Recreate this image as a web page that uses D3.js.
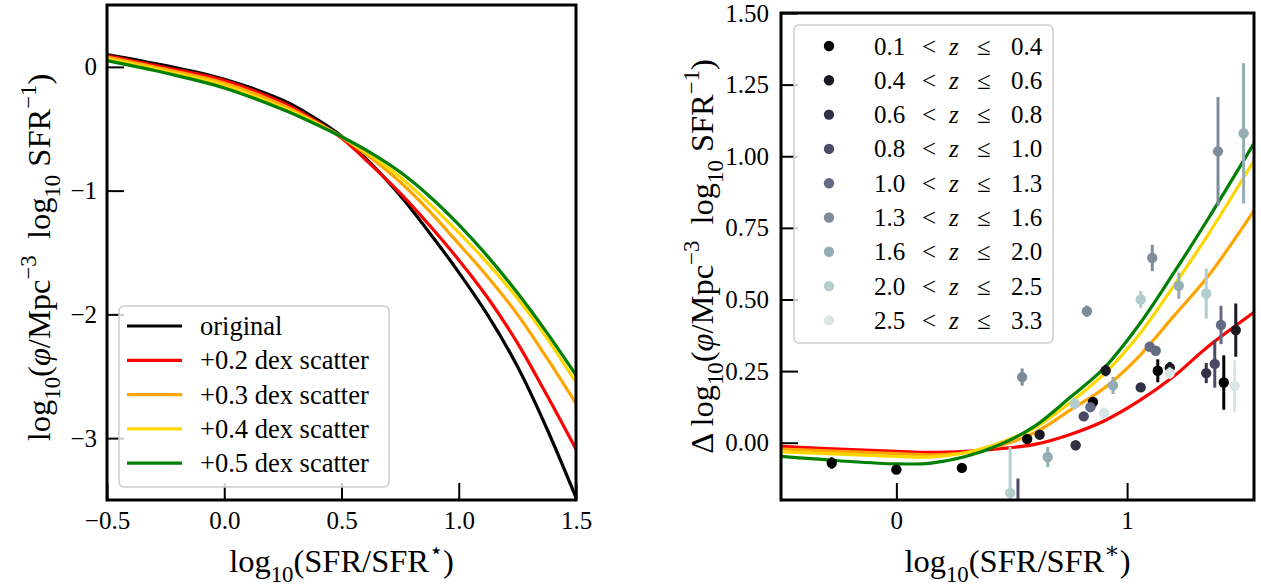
<!DOCTYPE html>
<html>
<head>
<meta charset="utf-8">
<title>SFR function with scatter</title>
<script src="https://cdn.jsdelivr.net/npm/d3@7"></script>
<style>
  body { margin: 0; background: #fff; }
  text { font-family: "Liberation Serif", "DejaVu Serif", serif; fill: #000; }
</style>
</head>
<body>
<div id="container"></div>
<script>

// ---- left panel: log10 phi curves ----
const lfX        = [-0.5, -0.25, 0, 0.25, 0.375, 0.5, 0.625, 0.75, 0.875, 1.0, 1.125, 1.25, 1.375, 1.5];
const lfOriginal = [0.10, 0.01, -0.10, -0.27, -0.40, -0.56, -0.78, -1.04, -1.34, -1.66, -2.01, -2.42, -2.92, -3.48];
const lfDex02    = [0.09, -0.005, -0.11, -0.29, -0.42, -0.575, -0.79, -1.02, -1.28, -1.56, -1.87, -2.23, -2.65, -3.09];
const lfDex03    = [0.08, -0.02, -0.13, -0.31, -0.43, -0.565, -0.735, -0.93, -1.165, -1.43, -1.70, -2.00, -2.35, -2.72];
const lfDex04    = [0.065, -0.035, -0.15, -0.33, -0.44, -0.565, -0.715, -0.89, -1.105, -1.34, -1.59, -1.87, -2.19, -2.55];
const lfDex05    = [0.05, -0.05, -0.17, -0.345, -0.45, -0.565, -0.695, -0.85, -1.045, -1.275, -1.535, -1.825, -2.145, -2.49];

const curveNames  = ['original', '+0.2 dex scatter', '+0.3 dex scatter', '+0.4 dex scatter', '+0.5 dex scatter'];
const curveColors = ['#000000', '#ff0000', '#ffa500', '#ffd700', '#008000'];

// ---- right panel: delta curves ----
const dX     = [-0.5, -0.25, 0, 0.15, 0.3, 0.45, 0.6, 0.75, 0.9, 1.05, 1.2, 1.35, 1.55];
const dDex02 = [-0.013, -0.022, -0.030, -0.034, -0.030, -0.021, -0.006, 0.028, 0.076, 0.145, 0.23, 0.335, 0.455];
const dDex03 = [-0.022, -0.030, -0.038, -0.042, -0.035, -0.010, 0.035, 0.112, 0.19, 0.30, 0.44, 0.58, 0.81];
const dDex04 = [-0.032, -0.040, -0.048, -0.050, -0.035, 0.0, 0.052, 0.138, 0.24, 0.375, 0.545, 0.725, 0.985];
const dDex05 = [-0.048, -0.063, -0.074, -0.071, -0.048, -0.006, 0.058, 0.156, 0.26, 0.41, 0.59, 0.78, 1.045];

// redshift bins
const zLow  = ['0.1', '0.4', '0.6', '0.8', '1.0', '1.3', '1.6', '2.0', '2.5'];
const zHigh = ['0.4', '0.6', '0.8', '1.0', '1.3', '1.6', '2.0', '2.5', '3.3'];
const zColors = ['#000000', '#191923', '#313145', '#4a4a67', '#636a83', '#7c8c9c', '#95aeb5', '#b1cdcd', '#d8e6e6'];

// observed points: bin index, x, y, error
const obsBin = [0, 0, 0, 0, 0, 0, 0,
                1, 1, 1, 1,
                2, 2, 2,
                3, 3, 3,
                4, 4, 4, 4,
                5, 5, 5, 5,
                6, 6, 6, 6,
                7, 7, 7, 7,
                8, 8, 8];
const obsX = [-0.28, 0.0, 0.284, 0.567, 0.852, 1.133, 1.419,
              0.621, 0.907, 1.185, 1.471,
              0.777, 1.059, 1.343,
              0.527, 0.812, 1.38,
              0.841, 1.098, 1.124, 1.407,
              0.545, 0.826, 1.109, 1.394,
              0.656, 0.939, 1.224, 1.505,
              0.493, 0.773, 1.059, 1.343,
              0.90, 1.185, 1.466];
const obsY = [-0.071, -0.094, -0.088, 0.013, 0.142, 0.251, 0.21,
              0.028, 0.252, 0.262, 0.393,
              -0.009, 0.193, 0.243,
              -0.25, 0.092, 0.275,
              0.124, 0.335, 0.321, 0.411,
              0.229, 0.459, 0.645, 1.017,
              -0.050, 0.200, 0.548, 1.080,
              -0.175, 0.136, 0.500, 0.521,
              0.103, 0.243, 0.198];
const obsErr = [0.02, 0.01, 0.01, 0.01, 0.01, 0.04, 0.095,
                0.01, 0.02, 0.02, 0.093,
                0.01, 0.01, 0.035,
                0.125, 0.01, 0.083,
                0.015, 0.01, 0.01, 0.067,
                0.03, 0.02, 0.046, 0.19,
                0.035, 0.03, 0.046, 0.245,
                0.16, 0.02, 0.03, 0.087,
                0.02, 0.02, 0.09];

// ticks
const leftXTicks  = [-0.5, 0.0, 0.5, 1.0, 1.5];
const leftYTicks  = [0, -1, -2, -3];
const rightXTicks = [0, 1];
const rightYTicks = [0.00, 0.25, 0.50, 0.75, 1.00, 1.25, 1.50];

const W = 1261, H = 587;
const tickFont = 25, labelFont = 32.5, legendFont = 25, legendFontL = 26.5;

const leftBox  = {x0: 107, x1: 576, y0: 5, y1: 500};
const rightBox = {x0: 781, x1: 1254, y0: 13, y1: 500};

const svg = d3.select('#container').append('svg')
  .attr('width', W).attr('height', H);

// writes text with sub/superscripts
function richText(el, parts, size) {
  let shift = 0;
  parts.forEach(([str, kind]) => {
    const target = kind === 'sub' ? size * 0.3 : kind === 'sup' ? -size * 0.42 : 0;
    const t = el.append('tspan').attr('dy', target - shift).text(str);
    shift = target;
    if (kind === 'sub' || kind === 'sup') t.attr('font-size', size * 0.7);
    if (kind === 'it') t.attr('font-style', 'italic');
  });
}

function drawAxes(g, box, x, y, xTicks, yTicks, xFmt, yFmt, yPad) {
  const ax = g.append('g')
    .attr('transform', `translate(0,${box.y1})`)
    .call(d3.axisBottom(x).tickValues(xTicks).tickFormat(xFmt)
      .tickSizeInner(-17).tickSizeOuter(0).tickPadding(11));
  const ay = g.append('g')
    .attr('transform', `translate(${box.x0},0)`)
    .call(d3.axisLeft(y).tickValues(yTicks).tickFormat(yFmt)
      .tickSizeInner(-17).tickSizeOuter(0).tickPadding(yPad));
  [ax, ay].forEach(a => {
    a.select('.domain').remove();
    a.selectAll('line').attr('stroke', '#000').attr('stroke-width', 2);
    a.selectAll('text')
      .style('font-family', '"Liberation Serif", serif')
      .attr('font-size', tickFont).attr('fill', '#000');
  });
}

function frame(g, box) {
  g.append('rect')
    .attr('x', box.x0).attr('y', box.y0)
    .attr('width', box.x1 - box.x0).attr('height', box.y1 - box.y0)
    .attr('fill', 'none').attr('stroke', '#000').attr('stroke-width', 3);
}

// ================= left panel =================
const xL = d3.scaleLinear().domain([-0.5, 1.5]).range([leftBox.x0, leftBox.x1]);
const yL = d3.scaleLinear().domain([-3.5, 0.5]).range([leftBox.y1, leftBox.y0]);

const left = svg.append('g');
svg.append('clipPath').attr('id', 'clipL').append('rect')
  .attr('x', leftBox.x0).attr('y', leftBox.y0)
  .attr('width', leftBox.x1 - leftBox.x0).attr('height', leftBox.y1 - leftBox.y0);

drawAxes(left, leftBox, xL, yL, leftXTicks, leftYTicks, d3.format('.1f'), d3.format('d'), 10);

const lineL = d3.line().x(d => xL(d[0])).y(d => yL(d[1])).curve(d3.curveCatmullRom.alpha(0.5));
const lfSeries = [lfOriginal, lfDex02, lfDex03, lfDex04, lfDex05];
left.append('g').attr('clip-path', 'url(#clipL)')
  .selectAll('path').data(lfSeries).join('path')
  .attr('d', s => lineL(lfX.map((x, i) => [x, s[i]])))
  .attr('fill', 'none')
  .attr('stroke', (d, i) => curveColors[i])
  .attr('stroke-width', 3.2);

frame(left, leftBox);

// left legend
const legL = left.append('g');
legL.append('rect')
  .attr('x', 119).attr('y', 306).attr('width', 270).attr('height', 181).attr('rx', 5)
  .attr('fill', '#fff').attr('fill-opacity', 0.8)
  .attr('stroke', '#cccccc').attr('stroke-width', 1.5);
const legLRows = legL.selectAll('g.row').data(curveNames).join('g')
  .attr('class', 'row')
  .attr('transform', (d, i) => `translate(0,${326 + i * 34.3})`);
legLRows.append('line')
  .attr('x1', 127).attr('x2', 182)
  .attr('stroke', (d, i) => curveColors[i]).attr('stroke-width', 3.2);
legLRows.append('text')
  .attr('x', 200).attr('y', 9)
  .attr('font-size', legendFontL)
  .text(d => d);

// left axis labels
const xlabL = left.append('text')
  .attr('x', (leftBox.x0 + leftBox.x1) / 2).attr('y', 572)
  .attr('text-anchor', 'middle').attr('font-size', labelFont);
richText(xlabL, [['log', ''], ['10', 'sub'], ['(SFR/SFR', ''], ['⋆', 'sup'], [')', '']], labelFont);

const ylabL = left.append('text')
  .attr('transform', `translate(50,${(leftBox.y0 + leftBox.y1) / 2 + 5}) rotate(-90)`)
  .attr('text-anchor', 'middle').attr('font-size', labelFont)
  .style('white-space', 'pre');
richText(ylabL, [['log', ''], ['10', 'sub'], ['(', ''], ['φ', 'it'], ['/Mpc', ''], ['−3', 'sup'],
  ['  log', ''], ['10', 'sub'], [' SFR', ''], ['−1', 'sup'], [')', '']], labelFont);

// ================= right panel =================
const xR = d3.scaleLinear().domain([-0.5, 1.55]).range([rightBox.x0, rightBox.x1]);
const yR = d3.scaleLinear().domain([-0.2, 1.5]).range([rightBox.y1, rightBox.y0]);

const right = svg.append('g');
svg.append('clipPath').attr('id', 'clipR').append('rect')
  .attr('x', rightBox.x0).attr('y', rightBox.y0)
  .attr('width', rightBox.x1 - rightBox.x0).attr('height', rightBox.y1 - rightBox.y0);

drawAxes(right, rightBox, xR, yR, rightXTicks, rightYTicks, d3.format('d'), d3.format('.2f'), 12);

const lineR = d3.line().x(d => xR(d[0])).y(d => yR(d[1])).curve(d3.curveCatmullRom.alpha(0.5));
const dSeries = [dDex02, dDex03, dDex04, dDex05];
const plotR = right.append('g').attr('clip-path', 'url(#clipR)');
plotR.selectAll('path.model').data(dSeries).join('path')
  .attr('class', 'model')
  .attr('d', s => lineR(dX.map((x, i) => [x, s[i]])))
  .attr('fill', 'none')
  .attr('stroke', (d, i) => curveColors[i + 1])
  .attr('stroke-width', 3.2);

// error bars + points, drawn bin by bin
const obs = obsX.map((x, i) => ({bin: obsBin[i], x, y: obsY[i], e: obsErr[i]}));
const obsG = plotR.append('g');
const pts = obsG.selectAll('g').data(obs).join('g');
pts.append('line')
  .attr('x1', d => xR(d.x)).attr('x2', d => xR(d.x))
  .attr('y1', d => yR(d.y - d.e)).attr('y2', d => yR(d.y + d.e))
  .attr('stroke', d => zColors[d.bin]).attr('stroke-width', 3);
pts.append('circle')
  .attr('cx', d => xR(d.x)).attr('cy', d => yR(d.y)).attr('r', 5.2)
  .attr('fill', d => zColors[d.bin]);

frame(right, rightBox);

// right legend
const legR = right.append('g');
legR.append('rect')
  .attr('x', 794).attr('y', 25).attr('width', 259).attr('height', 318).attr('rx', 5)
  .attr('fill', '#fff').attr('fill-opacity', 0.8)
  .attr('stroke', '#cccccc').attr('stroke-width', 1.5);
const legRRows = legR.selectAll('g.row').data(zLow).join('g')
  .attr('class', 'row')
  .attr('transform', (d, i) => `translate(0,${46 + i * 34.3})`);
legRRows.append('circle')
  .attr('cx', 829).attr('r', 5.2)
  .attr('fill', (d, i) => zColors[i]);
legRRows.append('text').attr('x', 874).attr('y', 8.5).attr('font-size', legendFont).text(d => d);
legRRows.append('text').attr('x', 922).attr('y', 8.5).attr('font-size', legendFont).text('<');
legRRows.append('text').attr('x', 949).attr('y', 8.5).attr('font-size', legendFont)
  .attr('font-style', 'italic').text('z');
legRRows.append('text').attr('x', 977).attr('y', 8.5).attr('font-size', legendFont).text('≤');
legRRows.append('text').attr('x', 1011).attr('y', 8.5).attr('font-size', legendFont)
  .text((d, i) => zHigh[i]);

// right axis labels
const xlabR = right.append('text')
  .attr('x', (rightBox.x0 + rightBox.x1) / 2).attr('y', 572)
  .attr('text-anchor', 'middle').attr('font-size', labelFont);
richText(xlabR, [['log', ''], ['10', 'sub'], ['(SFR/SFR', ''], ['∗', 'sup'], [')', '']], labelFont);

const ylabR = right.append('text')
  .attr('transform', `translate(713,${(rightBox.y0 + rightBox.y1) / 2}) rotate(-90)`)
  .attr('text-anchor', 'middle').attr('font-size', labelFont)
  .style('white-space', 'pre');
richText(ylabR, [['Δ log', ''], ['10', 'sub'], ['(', ''], ['φ', 'it'], ['/Mpc', ''], ['−3', 'sup'],
  ['  log', ''], ['10', 'sub'], [' SFR', ''], ['−1', 'sup'], [')', '']], labelFont);

</script>
</body>
</html>
